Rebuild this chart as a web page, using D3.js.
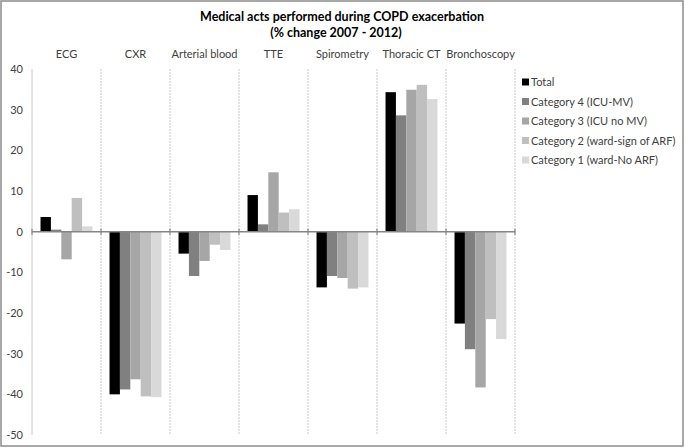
<!DOCTYPE html>
<html><head><meta charset="utf-8">
<script src="https://cdn.jsdelivr.net/npm/d3@7"></script>
<style>
body{margin:0;background:#fff;}
text{font-family:Lato,"Liberation Sans",sans-serif;}
</style></head><body>
<svg id="chart" width="685" height="448"></svg>
<script>
const categories = ["ECG","CXR","Arterial blood","TTE","Spirometry","Thoracic CT","Bronchoscopy"];
const seriesNames = ["Total","Category 4 (ICU-MV)","Category 3 (ICU no MV)","Category 2 (ward-sign of ARF)","Category 1 (ward-No ARF)"];
const total = [3.6,-40.0,-5.4,9.0,-13.7,34.3,-22.6];
const cat4  = [0.5,-38.8,-10.9,1.8,-10.9,28.6,-28.9];
const cat3  = [-6.8,-36.3,-7.2,14.6,-11.4,34.9,-38.3];
const cat2  = [8.3,-40.5,-3.2,4.7,-14.0,36.1,-21.5];
const cat1  = [1.3,-40.7,-4.5,5.5,-13.7,32.6,-26.4];
const seriesValues = [total,cat4,cat3,cat2,cat1];
const seriesColors = ["#000000","#808080","#a6a6a6","#bfbfbf","#d9d9d9"];
const yTicks = [40,30,20,10,0,-10,-20,-30,-40,-50];
const titleLines = ["Medical acts performed during COPD exacerbation","(% change 2007 - 2012)"];

const svg = d3.select("#chart");
const W=685,H=448;
const plot = {left:32,right:515,top:69,bottom:435};

// outer border
svg.append("rect").attr("x",1).attr("y",1).attr("width",W-3).attr("height",H-3)
  .attr("fill","#fff").attr("stroke","#8c8c8c").attr("stroke-width",1.5);

const x0 = d3.scaleBand().domain(categories).range([plot.left,plot.right]).paddingInner(0).paddingOuter(0);
const x1 = d3.scaleBand().domain(d3.range(seriesNames.length)).range([0,x0.bandwidth()]).paddingInner(0).paddingOuter(0.82);
const y = d3.scaleLinear().domain([-50,40]).range([plot.bottom,plot.top]);

// separators
const seps = categories.map(c=>x0(c)).concat([plot.right]);
svg.append("g").selectAll("line").data(seps).join("line")
  .attr("x1",d=>d).attr("x2",d=>d).attr("y1",plot.top).attr("y2",plot.bottom)
  .attr("stroke","#c8c8c8").attr("stroke-width",1)
  .attr("stroke-dasharray",(d,i)=>i===0?null:"2,1");

// y labels
svg.append("g").selectAll("text").data(yTicks).join("text")
  .attr("x",23).attr("y",d=>y(d)+4).attr("text-anchor","end")
  .attr("font-size",11).attr("fill","#404040").text(d=>d);

// bars
const g = svg.append("g");
categories.forEach((c,ci)=>{
  seriesValues.forEach((vals,si)=>{
    const v = vals[ci];
    g.append("rect")
      .attr("x",x0(c)+x1(si)).attr("width",x1.bandwidth())
      .attr("y",y(Math.max(0,v))).attr("height",Math.abs(y(v)-y(0)))
      .attr("fill",seriesColors[si]);
  });
});

// zero line + ticks
svg.append("line").attr("x1",plot.left).attr("x2",plot.right).attr("y1",y(0)).attr("y2",y(0))
  .attr("stroke","#868686").attr("stroke-width",1.5);
svg.append("g").selectAll("line").data(seps).join("line")
  .attr("x1",d=>d).attr("x2",d=>d).attr("y1",y(0)-3).attr("y2",y(0)+3)
  .attr("stroke","#868686").attr("stroke-width",1.2);

// category labels
svg.append("g").selectAll("text").data(categories).join("text")
  .attr("x",d=>x0(d)+x0.bandwidth()/2).attr("y",58).attr("text-anchor","middle")
  .attr("font-size",11).attr("fill","#404040").text(d=>d);

// title
svg.append("g").selectAll("text").data(titleLines).join("text")
  .attr("x",(d,i)=>i===0?342:336).attr("y",(d,i)=>21+i*15.5).attr("text-anchor","middle")
  .attr("font-size",12.5).attr("font-weight","bold").attr("fill","#000").text(d=>d);

// legend
const leg = svg.append("g").selectAll("g").data(seriesNames).join("g")
  .attr("transform",(d,i)=>`translate(522,${82+i*19.5})`);
leg.append("rect").attr("x",0).attr("y",-3.5).attr("width",7).attr("height",7)
  .attr("fill",(d,i)=>seriesColors[i]);
leg.append("text").attr("x",9).attr("y",4).attr("font-size",11).attr("fill","#404040").text(d=>d);
</script></body></html>
